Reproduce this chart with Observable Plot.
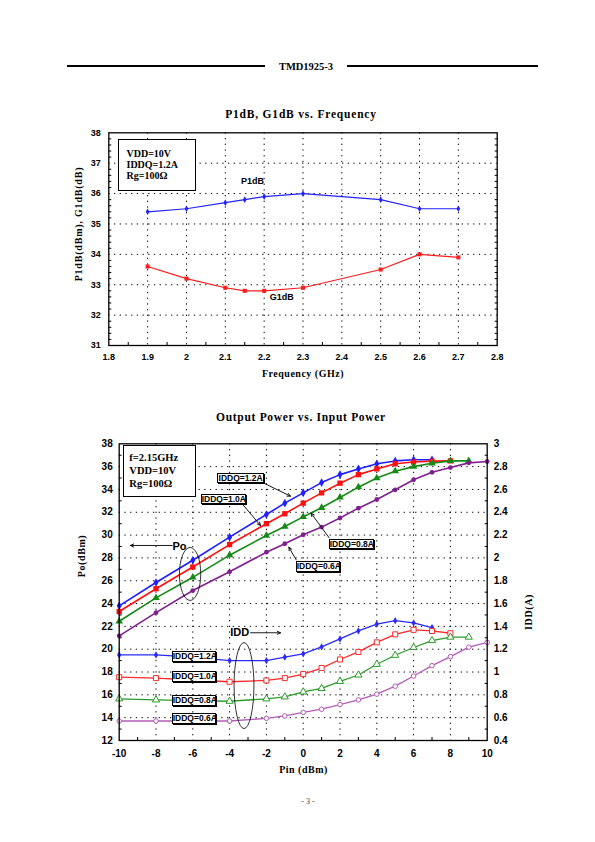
<!DOCTYPE html>
<html>
<head>
<meta charset="utf-8">
<script src="https://cdn.jsdelivr.net/npm/d3@7"></script>
<script src="https://cdn.jsdelivr.net/npm/@observablehq/plot@0.6"></script>
<style>
html,body{margin:0;padding:0;background:#fff;}
#page{position:relative;width:595px;height:842px;overflow:hidden;background:#fff;}
.a{position:absolute;white-space:nowrap;z-index:2;color:#000;}
.serif{font-family:"Liberation Serif","Times New Roman",serif;font-weight:bold;}
.narrow{font-family:"Liberation Sans Narrow","Liberation Sans",Arial,sans-serif;font-weight:bold;}
.rule{position:absolute;height:2px;background:#000;z-index:2;}
.box{position:absolute;border:1px solid #000;background:#fff;box-sizing:border-box;z-index:2;}
.tag{position:absolute;border:1px solid #000;background:#fff;box-sizing:border-box;box-shadow:1px 1px 0 #000;z-index:2;
  font-family:"Liberation Sans Narrow","Liberation Sans",Arial,sans-serif;font-weight:bold;font-size:8.5px;text-align:center;overflow:hidden;white-space:nowrap;}
.rot{transform:translate(-50%,-50%) rotate(-90deg);}
.ctr{transform:translate(-50%,-50%);}
.plot{position:absolute;left:0;}
</style>
</head>
<body>
<div id="page">
  <div class="rule" style="left:67px;top:65px;width:198px;"></div>
  <div class="rule" style="left:347px;top:65px;width:191px;"></div>
  <div class="a serif ctr" style="left:306px;top:66px;font-size:10.5px;">TMD1925-3</div>

  <div class="a serif ctr" style="left:301px;top:114px;font-size:11.5px;letter-spacing:0.8px;">P1dB, G1dB vs. Frequency</div>
  <div class="box" style="left:118px;top:139px;width:78px;height:52px;"></div>
  <div class="a serif" style="left:126.5px;top:147.5px;font-size:10px;line-height:11px;">VDD=10V<br>IDDQ=1.2A<br>Rg=100Ω</div>
  <div class="a serif rot" style="left:78px;top:224px;font-size:10px;letter-spacing:0.8px;">P1dB(dBm), G1dB(dB)</div>
  <div class="a serif ctr" style="left:303px;top:372.5px;font-size:10px;letter-spacing:0.5px;">Frequency (GHz)</div>

  <div class="a serif ctr" style="left:301px;top:417px;font-size:11.5px;letter-spacing:0.7px;">Output Power vs. Input Power</div>
  <div class="box" style="left:122.7px;top:445px;width:73.3px;height:51.7px;"></div>
  <div class="a serif" style="left:129.3px;top:450.5px;font-size:10.5px;line-height:13.3px;">f=2.15GHz<br>VDD=10V<br>Rg=100Ω</div>
  <div class="a serif rot" style="left:80.5px;top:556px;font-size:10px;letter-spacing:0.6px;">Po(dBm)</div>
  <div class="a serif rot" style="left:528px;top:612px;font-size:10px;letter-spacing:0.6px;">IDD(A)</div>
  <div class="a serif ctr" style="left:303.5px;top:769px;font-size:10px;letter-spacing:0.5px;">Pin (dBm)</div>

  <div class="tag" style="left:217.3px;top:472.5px;width:46.7px;height:10px;line-height:8px;">IDDQ=1.2A</div>
  <div class="tag" style="left:200.7px;top:494.3px;width:45px;height:10px;line-height:8px;">IDDQ=1.0A</div>
  <div class="tag" style="left:328.7px;top:539.3px;width:45.6px;height:10px;line-height:8px;">IDDQ=0.8A</div>
  <div class="tag" style="left:295.7px;top:561px;width:44.3px;height:10.7px;line-height:8.7px;">IDDQ=0.6A</div>

  <div class="tag" style="left:171.7px;top:650.7px;width:44.3px;height:11px;line-height:9px;">IDDQ=1.2A</div>
  <div class="tag" style="left:171.7px;top:670.7px;width:44.3px;height:11px;line-height:9px;">IDDQ=1.0A</div>
  <div class="tag" style="left:171.7px;top:695px;width:44.3px;height:11px;line-height:9px;">IDDQ=0.8A</div>
  <div class="tag" style="left:171.7px;top:712.7px;width:44.3px;height:11px;line-height:9px;">IDDQ=0.6A</div>

  <div class="a ctr" style="left:308px;top:801px;font-family:'Liberation Serif',serif;font-size:8px;color:#444;">- 3 -</div>
</div>
<script>
// ---------- Chart 1 data: P1dB, G1dB vs. Frequency ----------
const freq = [1.9, 2.0, 2.1, 2.15, 2.2, 2.3, 2.5, 2.6, 2.7];
const p1dB = [35.4, 35.5, 35.7, 35.8, 35.9, 36.0, 35.8, 35.5, 35.5];
const g1dB = [33.6, 33.2, 32.9, 32.8, 32.8, 32.9, 33.5, 34.0, 33.9];
const freqTicks = [1.8, 1.9, 2, 2.1, 2.2, 2.3, 2.4, 2.5, 2.6, 2.7, 2.8];
const freqMinor = [1.85, 1.95, 2.05, 2.15, 2.25, 2.35, 2.45, 2.55, 2.65, 2.75];
const levelTicks = [31, 32, 33, 34, 35, 36, 37, 38];
const levelMinor = [31.2, 31.4, 31.6, 31.8, 32.2, 32.4, 32.6, 32.8, 33.2, 33.4, 33.6, 33.8, 34.2, 34.4, 34.6, 34.8,
  35.2, 35.4, 35.6, 35.8, 36.2, 36.4, 36.6, 36.8, 37.2, 37.4, 37.6, 37.8];
const chart1Labels = [
  {x: 2.17, y: 36.4, text: "P1dB"},
  {x: 2.245, y: 32.6, text: "G1dB"}
];

// ---------- Chart 2 data: Output power vs. input power ----------
const pin = [-10, -8, -6, -4, -2, -1, 0, 1, 2, 3, 4, 5, 6, 7, 8, 9, 10];
const po12 = [23.8, 25.85, 27.8, 29.82, 31.8, 32.8, 33.7, 34.6, 35.3, 35.8, 36.25, 36.5, 36.6, 36.6];
const po10 = [23.3, 25.3, 27.2, 29.17, 31.0, 31.87, 32.8, 33.7, 34.55, 35.3, 35.8, 36.25, 36.4, 36.48, 36.5];
const po08 = [22.45, 24.5, 26.3, 28.24, 29.96, 30.75, 31.6, 32.4, 33.3, 34.2, 35.0, 35.6, 36.0, 36.3, 36.5, 36.5];
const po06 = [21.17, 23.2, 25.14, 26.78, 28.5, 29.24, 30.03, 30.7, 31.5, 32.36, 33.12, 33.97, 34.85, 35.5, 35.92, 36.33, 36.45];
const idd12 = [1.15, 1.15, 1.13, 1.10, 1.10, 1.13, 1.16, 1.22, 1.29, 1.36, 1.42, 1.45, 1.43, 1.39];
const idd10 = [0.955, 0.947, 0.93, 0.915, 0.926, 0.947, 0.982, 1.035, 1.11, 1.176, 1.26, 1.33, 1.37, 1.36, 1.34];
const idd08 = [0.765, 0.756, 0.75, 0.744, 0.765, 0.782, 0.826, 0.856, 0.918, 0.974, 1.068, 1.147, 1.215, 1.276, 1.306, 1.306];
const idd06 = [0.571, 0.571, 0.571, 0.571, 0.594, 0.615, 0.647, 0.674, 0.715, 0.756, 0.806, 0.876, 0.965, 1.056, 1.135, 1.218, 1.259];
const pinTicks = [-10, -8, -6, -4, -2, 0, 2, 4, 6, 8, 10];
const pinMinor = [-9, -7, -5, -3, -1, 1, 3, 5, 7, 9];
const poTicks = [12, 14, 16, 18, 20, 22, 24, 26, 28, 30, 32, 34, 36, 38];
const poMinor = [13, 15, 17, 19, 21, 23, 25, 27, 29, 31, 33, 35, 37];
const iddTicks = [0.4, 0.6, 0.8, 1, 1.2, 1.4, 1.6, 1.8, 2, 2.2, 2.4, 2.6, 2.8, 3];
const iddMinor = [0.5, 0.7, 0.9, 1.1, 1.3, 1.5, 1.7, 1.9, 2.1, 2.3, 2.5, 2.7, 2.9];
const chart2Labels = [
  {x: -6.72, y: 29.03, text: "Po"},
  {x: -3.45, y: 21.44, text: "IDD"}
];
const chart2Arrows = [
  {x1: -2.10, y1: 34.52, x2: -0.69, y2: 33.41},
  {x1: -3.27, y1: 32.65, x2: -2.32, y2: 30.84},
  {x1: 1.41, y1: 29.76, x2: 0.43, y2: 31.92},
  {x1: -0.38, y1: 27.83, x2: -0.78, y2: 28.94},
  {x1: -7.12, y1: 29.09, x2: -9.39, y2: 29.09},
  {x1: -2.86, y1: 21.44, x2: -1.23, y2: 21.44}
];
const chart2Ellipses = [
  {x: -6.12, y: 26.55, rx: 0.58, ry: 2.32},
  {x: -3.19, y: 16.77, rx: 0.54, ry: 3.77}
];

// ---------- helpers ----------
const SANS = "'Liberation Sans Narrow','Liberation Sans',Arial,sans-serif";
const iddToPo = v => 12 + (v - 0.4) * 10;           // right axis (IDD) mapped onto left axis (Po)
const poToIdd = v => +((v - 12) / 10 + 0.4).toFixed(1);
const rows = (xs, ys, f = v => v) => ys.map((v, i) => ({x: xs[i], y: f(v)}));
const gridStyle = {stroke: "#000", strokeOpacity: 1, strokeWidth: 1, strokeDasharray: "1.3,4.4"};
const tickText = {tickSize: 0, fontSize: 9.5, fontWeight: "bold", label: null};
const page = document.getElementById("page");

// ---------- Chart 1 ----------
const BLUE = "#2323ff", RED = "#ff1c1c";
const c1 = Plot.plot({
  width: 595, height: 290,
  marginLeft: 108.3, marginRight: 98.3, marginTop: 32.3, marginBottom: 45,
  x: {domain: [1.8, 2.8]},
  y: {domain: [31, 38]},
  style: {background: "transparent", fontFamily: SANS, overflow: "visible", color: "#000"},
  marks: [
    Plot.gridX(freqTicks.slice(1, -1), gridStyle),
    Plot.gridY(levelTicks.slice(1, -1), gridStyle),
    Plot.axisX(freqMinor, {tickSize: 3, dy: -3, fill: "none", label: null}),
    Plot.axisY(levelMinor, {anchor: "left", tickSize: 3, dx: 3, fill: "none", label: null}),
    Plot.axisY(levelMinor, {anchor: "right", tickSize: 3, dx: -3, fill: "none", label: null}),
    Plot.axisX(freqTicks, {...tickText, fontSize: 9, tickPadding: 8.5, tickFormat: d => String(d)}),
    Plot.axisY(levelTicks, {...tickText, fontSize: 9, tickPadding: 8, tickFormat: d => String(d)}),
    Plot.line(rows(freq, p1dB), {x: "x", y: "y", stroke: BLUE, strokeWidth: 1.2}),
    Plot.dot(rows(freq, p1dB), {x: "x", y: "y", symbol: "diamond", r: 2, fill: BLUE}),
    Plot.line(rows(freq, g1dB), {x: "x", y: "y", stroke: RED, strokeWidth: 1.2}),
    Plot.dot(rows(freq, g1dB), {x: "x", y: "y", symbol: "square", r: 2.3, fill: RED}),
    Plot.text(chart1Labels, {x: "x", y: "y", text: "text", fontSize: 9, fontWeight: "bold"}),
    Plot.frame({stroke: "#000", strokeWidth: 1.3})
  ]
});
c1.classList.add("plot");
c1.style.top = "100px";
page.appendChild(c1);

// ---------- Chart 2 ----------
const series = [
  {po: po12, idd: idd12, color: "#1f1fff", iddColor: "#2a2aff", symbol: "diamond", r: 2.6, openIdd: false},
  {po: po10, idd: idd10, color: "#ff1010", iddColor: "#ff2a2a", symbol: "square", r: 3, openIdd: true},
  {po: po08, idd: idd08, color: "#158a15", iddColor: "#2c9a2c", symbol: "triangle", r: 2.8, openIdd: true},
  {po: po06, idd: idd06, color: "#80208f", iddColor: "#b45cb8", symbol: "circle", r: 2.4, openIdd: true}
];
const seriesMarks = series.flatMap(s => {
  const poRows = rows(pin, s.po);
  const iddRows = rows(pin, s.idd, iddToPo);
  return [
    Plot.line(iddRows, {x: "x", y: "y", stroke: s.iddColor, strokeWidth: 1.3}),
    Plot.dot(iddRows, s.openIdd
      ? {x: "x", y: "y", symbol: s.symbol, r: s.r * 0.95, stroke: s.iddColor, strokeWidth: 1, fill: "#fff"}
      : {x: "x", y: "y", symbol: s.symbol, r: s.r * 0.85, fill: s.iddColor}),
    Plot.line(poRows, {x: "x", y: "y", stroke: s.color, strokeWidth: 1.6}),
    Plot.dot(poRows, {x: "x", y: "y", symbol: s.symbol, r: s.r, fill: s.color})
  ];
});
const c2 = Plot.plot({
  width: 595, height: 355,
  marginLeft: 118.7, marginRight: 108.3, marginTop: 13.3, marginBottom: 45,
  x: {domain: [-10, 10]},
  y: {domain: [12, 38]},
  style: {background: "transparent", fontFamily: SANS, overflow: "visible", color: "#000"},
  marks: [
    Plot.gridX(pinTicks.slice(1, -1), gridStyle),
    Plot.gridY(poTicks.slice(1, -1), gridStyle),
    Plot.axisX(pinMinor, {tickSize: 3, dy: -3, fill: "none", label: null}),
    Plot.axisY(poMinor, {anchor: "left", tickSize: 3, dx: 3, fill: "none", label: null}),
    Plot.axisY(iddMinor.map(iddToPo), {anchor: "right", tickSize: 3, dx: -3, fill: "none", label: null}),
    Plot.axisX(pinTicks, {...tickText, fontSize: 10, tickPadding: 9.5, tickFormat: d => String(d)}),
    Plot.axisY(poTicks, {...tickText, fontSize: 10, tickPadding: 6.5, tickFormat: d => String(d)}),
    Plot.axisY(iddTicks.map(iddToPo), {...tickText, anchor: "right", fontSize: 10, tickPadding: 6.5, tickFormat: d => String(poToIdd(d))}),
    ...seriesMarks,
    Plot.arrow(chart2Arrows, {x1: "x1", y1: "y1", x2: "x2", y2: "y2", stroke: "#000", strokeWidth: 0.9, headLength: 6, headAngle: 50}),
    Plot.text(chart2Labels, {x: "x", y: "y", text: "text", fontSize: 11, fontWeight: "bold"}),
    Plot.frame({stroke: "#000", strokeWidth: 1.3})
  ]
});
c2.classList.add("plot");
c2.style.top = "430px";
page.appendChild(c2);
const sx = c2.scale("x"), sy = c2.scale("y");
const svg2 = d3.select(c2);
chart2Ellipses.forEach(e => {
  svg2.append("ellipse")
    .attr("cx", sx.apply(e.x)).attr("cy", sy.apply(e.y))
    .attr("rx", Math.abs(sx.apply(e.x + e.rx) - sx.apply(e.x)))
    .attr("ry", Math.abs(sy.apply(e.y + e.ry) - sy.apply(e.y)))
    .attr("fill", "none").attr("stroke", "#000").attr("stroke-width", 0.8);
});
</script>
</body>
</html>
